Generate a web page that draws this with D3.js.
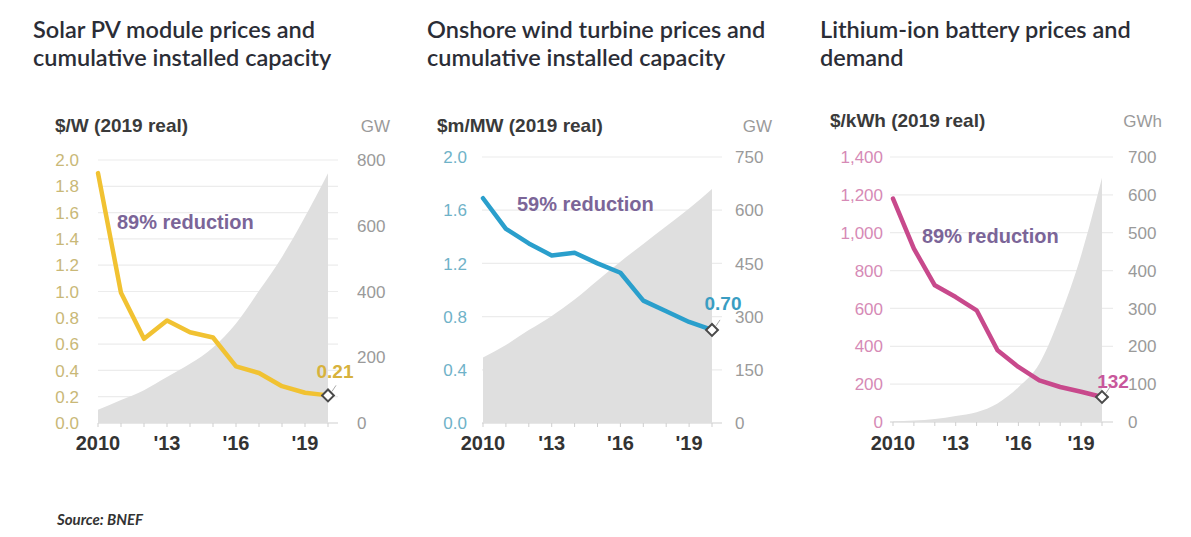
<!DOCTYPE html>
<html>
<head>
<meta charset="utf-8">
<script src="https://cdn.jsdelivr.net/npm/d3@7/dist/d3.min.js"></script>
<style>
  html, body { margin: 0; padding: 0; background: #ffffff; }
  svg { display: block; }
  .title { font-family: Lato, "Noto Sans", sans-serif; fill: #2b2d36; }
  .tick { font-family: "Liberation Sans", Arial, sans-serif; }
</style>
</head>
<body>
<svg id="chart" width="1191" height="537"></svg>
<script>
// ---------------- data ----------------
const years = [2010, 2011, 2012, 2013, 2014, 2015, 2016, 2017, 2018, 2019, 2020];
const yearTickLabels = ["2010", "'13", "'16", "'19"];
const yearTickValues = [2010, 2013, 2016, 2019];

const solarPrice    = [1.90, 0.99, 0.64, 0.78, 0.69, 0.65, 0.43, 0.38, 0.28, 0.23, 0.21];
const solarCapacity = [40, 70, 100, 140, 180, 230, 303, 402, 505, 627, 760];
const solarLeftTicks  = [0, 0.2, 0.4, 0.6, 0.8, 1.0, 1.2, 1.4, 1.6, 1.8, 2.0];
const solarRightTicks = [0, 200, 400, 600, 800];

const windPrice    = [1.69, 1.46, 1.35, 1.26, 1.28, 1.20, 1.13, 0.92, 0.84, 0.76, 0.70];
const windCapacity = [185, 220, 262, 302, 348, 402, 455, 505, 555, 605, 660];
const windLeftTicks  = [0, 0.4, 0.8, 1.2, 1.6, 2.0];
const windRightTicks = [0, 150, 300, 450, 600, 750];

const batteryPrice  = [1180, 916, 722, 660, 590, 379, 291, 220, 185, 160, 132];
const batteryDemand = [2, 4, 8, 16, 26, 49, 92, 154, 280, 440, 645];
const batteryLeftTicks  = [0, 200, 400, 600, 800, 1000, 1200, 1400];
const batteryRightTicks = [0, 100, 200, 300, 400, 500, 600, 700];

const titles = [
  ["Solar PV module prices and", "cumulative installed capacity"],
  ["Onshore wind turbine prices and", "cumulative installed capacity"],
  ["Lithium-ion battery prices and", "demand"]
];
const leftUnits  = ["$/W (2019 real)", "$m/MW (2019 real)", "$/kWh (2019 real)"];
const rightUnits = ["GW", "GW", "GWh"];
const reductionLabels = ["89% reduction", "59% reduction", "89% reduction"];
const endLabels = ["0.21", "0.70", "132"];
const sourceText = "Source: BNEF";

// ---------------- layout / style ----------------
const panels = [
  { price: solarPrice, cap: solarCapacity, lt: solarLeftTicks, rt: solarRightTicks,
    lmax: 2.0, rmax: 800, lfmt: d3.format(".1f"), rfmt: d3.format("d"),
    x0: 98, x1: 328, gx0: 98, gx1: 338, top: 160, bottom: 423,
    lx: 79, rx: 357, ux: 55, uy: 132, rux: 390, tx: 33,
    color: "#f1c232", tickColor: "#c9b877", labColor: "#d7b23c",
    redX: 117, redY: 229, endDx: 7, endDy: -17, endAnchor: "middle" },
  { price: windPrice, cap: windCapacity, lt: windLeftTicks, rt: windRightTicks,
    lmax: 2.0, rmax: 750, lfmt: d3.format(".1f"), rfmt: d3.format("d"),
    x0: 483, x1: 712, gx0: 482, gx1: 722, top: 157, bottom: 423,
    lx: 467, rx: 735, ux: 437, uy: 132, rux: 772, tx: 427,
    color: "#2a9fcc", tickColor: "#6fb2c8", labColor: "#3a9dc2",
    redX: 517, redY: 211, endDx: 11, endDy: -20, endAnchor: "middle" },
  { price: batteryPrice, cap: batteryDemand, lt: batteryLeftTicks, rt: batteryRightTicks,
    lmax: 1400, rmax: 700, lfmt: d3.format(","), rfmt: d3.format("d"),
    x0: 893, x1: 1102, gx0: 890, gx1: 1113, top: 157, bottom: 422,
    lx: 883, rx: 1128, ux: 830, uy: 127, rux: 1162, tx: 820,
    color: "#c8498c", tickColor: "#d68ab6", labColor: "#c8579b",
    redX: 922, redY: 243, endDx: 11, endDy: -9, endAnchor: "middle" }
];

const svg = d3.select("#chart");

panels.forEach((p, i) => {
  const g = svg.append("g");
  const x = d3.scaleLinear().domain([2010, 2020]).range([p.x0, p.x1]);
  const yL = d3.scaleLinear().domain([0, p.lmax]).range([p.bottom, p.top]);
  const yR = d3.scaleLinear().domain([0, p.rmax]).range([p.bottom, p.top]);

  // title
  const t = g.append("text").attr("class", "title")
    .attr("x", p.tx).attr("y", 38)
    .style("font-size", "23.5px").style("font-weight", "600");
  titles[i].forEach((line, k) => {
    t.append("tspan").attr("x", p.tx).attr("dy", k === 0 ? 0 : 28).text(line);
  });

  // units
  g.append("text").attr("class", "tick").attr("x", p.ux).attr("y", p.uy)
    .style("font-size", "19px").style("font-weight", "bold").style("fill", "#3a3a3a")
    .text(leftUnits[i]);
  g.append("text").attr("class", "tick").attr("x", p.rux).attr("y", p.uy)
    .attr("text-anchor", "end")
    .style("font-size", "17px").style("fill", "#9a9a9a").text(rightUnits[i]);

  // gridlines
  g.append("g").selectAll("line").data(p.lt).join("line")
    .attr("x1", p.gx0).attr("x2", p.gx1)
    .attr("y1", d => yL(d)).attr("y2", d => yL(d))
    .attr("stroke", d => d === 0 ? "#d0d0d0" : "#ececec").attr("stroke-width", 1.2);

  // area (capacity / demand)
  const area = d3.area()
    .x((d, j) => x(years[j]))
    .y0(yR(0))
    .y1(d => yR(d))
    .curve(d3.curveMonotoneX);
  g.append("path").datum(p.cap).attr("d", area).attr("fill", "#dfdfdf");

  // year ticks
  g.append("g").selectAll("line").data(years).join("line")
    .attr("x1", d => x(d)).attr("x2", d => x(d))
    .attr("y1", p.bottom).attr("y2", p.bottom + 4)
    .attr("stroke", "#cfcfcf").attr("stroke-width", 1);

  // left tick labels
  g.append("g").selectAll("text").data(p.lt).join("text")
    .attr("class", "tick")
    .attr("x", p.lx).attr("y", d => yL(d)).attr("dy", "0.36em")
    .attr("text-anchor", "end")
    .style("font-size", "17px").style("fill", p.tickColor)
    .text(d => p.lfmt(d));

  // right tick labels
  g.append("g").selectAll("text").data(p.rt).join("text")
    .attr("class", "tick")
    .attr("x", p.rx).attr("y", d => yR(d)).attr("dy", "0.36em")
    .style("font-size", "17px").style("fill", "#9a9a9a")
    .text(d => p.rfmt(d));

  // year labels
  g.append("g").selectAll("text").data(yearTickValues).join("text")
    .attr("class", "tick")
    .attr("x", d => x(d)).attr("y", 450)
    .attr("text-anchor", "middle")
    .style("font-size", "20px").style("font-weight", "bold").style("fill", "#333")
    .text((d, j) => yearTickLabels[j]);

  // price line
  const line = d3.line()
    .x((d, j) => x(years[j]))
    .y(d => yL(d))
    .curve(d3.curveLinear);
  g.append("path").datum(p.price).attr("d", line)
    .attr("fill", "none").attr("stroke", p.color)
    .attr("stroke-width", 4.5).attr("stroke-linejoin", "round").attr("stroke-linecap", "round");

  // reduction label
  g.append("text").attr("class", "tick")
    .attr("x", p.redX).attr("y", p.redY)
    .style("font-size", "20px").style("font-weight", "bold").style("fill", "#7b6598")
    .text(reductionLabels[i]);

  // end marker
  const last = p.price.length - 1;
  const cx = x(years[last]), cy = yL(p.price[last]);
  g.append("line")
    .attr("x1", cx + 4).attr("y1", cy - 4).attr("x2", cx + 8).attr("y2", cy - 10)
    .attr("stroke", "#aaa").attr("stroke-width", 1);
  g.append("path")
    .attr("d", d3.symbol().type(d3.symbolSquare).size(70)())
    .attr("transform", `translate(${cx},${cy}) rotate(45)`)
    .attr("fill", "#fff").attr("stroke", "#4a4a4a").attr("stroke-width", 2);
  g.append("text").attr("class", "tick")
    .attr("x", cx + p.endDx).attr("y", cy + p.endDy)
    .attr("text-anchor", p.endAnchor)
    .style("font-size", "19px").style("font-weight", "bold").style("fill", p.labColor)
    .text(endLabels[i]);
});

// source
svg.append("text").attr("x", 57).attr("y", 525)
  .style("font-family", "Lato, 'Noto Sans', sans-serif")
  .style("font-size", "15px").style("font-style", "italic").style("font-weight", "bold")
  .style("fill", "#333").text(sourceText);
</script>
</body>
</html>
